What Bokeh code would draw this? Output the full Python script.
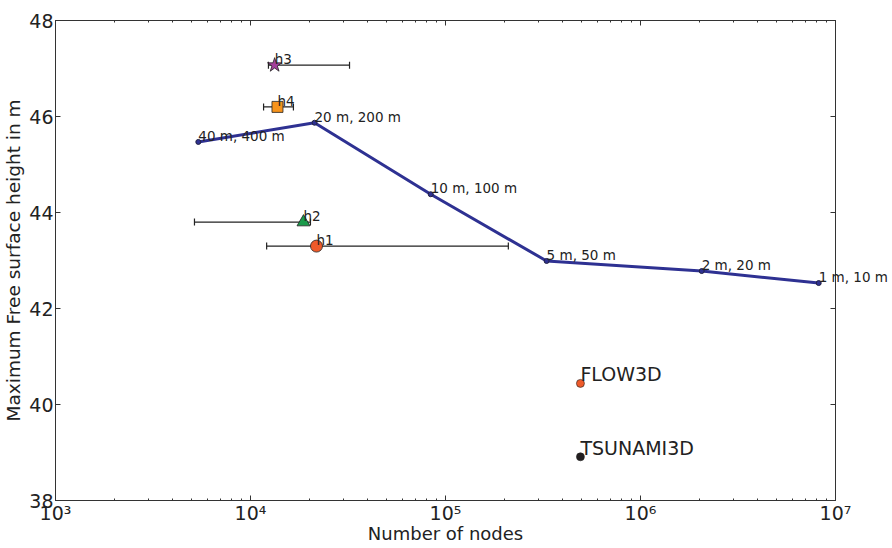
from bokeh.plotting import figure
from bokeh.models import (ColumnDataSource, Label, Whisker, TeeHead, LogAxis,
                          LinearAxis, FixedTicker, CustomJSTickFormatter)
from bokeh.embed import file_html
from bokeh.resources import INLINE

# --- data -------------------------------------------------------------
res_labels = ["40 m, 400 m", "20 m, 200 m", "10 m, 100 m", "5 m, 50 m", "2 m, 20 m", "1 m, 10 m"]
res_nodes = [5.4e3, 2.13e4, 8.4e4, 3.3e5, 2.06e6, 8.2e6]
res_height = [45.47, 45.87, 44.38, 42.99, 42.78, 42.53]

gauge_names = ["h1", "h2", "h3", "h4"]
gauge_nodes = [2.18e4, 1.87e4, 1.33e4, 1.375e4]
gauge_height = [43.30, 43.80, 47.07, 46.20]
gauge_lo = [1.21e4, 5.16e3, 1.236e4, 1.167e4]
gauge_hi = [2.10e5, 2.03e4, 3.22e4, 1.66e4]
gauge_markers = ["circle", "triangle", "star", "square"]
gauge_colors = ["#ee5a2a", "#1a9a4a", "#a23f9c", "#f7941d"]
gauge_sizes = [12, 13, 15, 11]

model_names = ["FLOW3D", "TSUNAMI3D"]
model_nodes = [4.92e5, 4.92e5]
model_height = [40.44, 38.91]
model_colors = ["#ee5a2a", "#231f20"]

x_major = [1e3, 1e4, 1e5, 1e6, 1e7]
y_major = [38, 40, 42, 44, 46, 48]

FONT = "DejaVu Sans"
TXT = "#222222"

p = figure(width=892, height=548, x_axis_type="log", x_range=(1e3, 1e7), y_range=(38, 48),
           output_backend="svg", toolbar_location=None,
           min_border_left=55, min_border_right=57, min_border_top=17, min_border_bottom=48)
p.grid.visible = False
p.outline_line_color = "#333333"
p.outline_line_width = 1
p.background_fill_color = "white"
p.border_fill_color = "white"

x_minor = [m * d for d in x_major[:-1] for m in range(2, 10)]
xticker = FixedTicker(ticks=x_major, minor_ticks=x_minor)
yticker = FixedTicker(ticks=y_major, minor_ticks=[])
fmt = CustomJSTickFormatter(code="""
const sup = {"0":"\u2070","1":"\u00b9","2":"\u00b2","3":"\u00b3","4":"\u2074","5":"\u2075","6":"\u2076","7":"\u2077","8":"\u2078","9":"\u2079","-":"\u207b"};
const e = Math.round(Math.log10(tick));
return "10" + String(e).split("").map(c => sup[c]).join("");
""")
blank = CustomJSTickFormatter(code="return ' ';")

def style(ax, labels=True):
    ax.major_tick_in = 5
    ax.major_tick_out = 0
    ax.minor_tick_in = 2
    ax.minor_tick_out = 0
    ax.axis_line_color = "#333333"
    ax.major_tick_line_color = "#333333"
    ax.minor_tick_line_color = "#333333"
    ax.major_label_text_font = FONT
    ax.major_label_text_color = TXT
    ax.major_label_text_font_size = "19px" if labels else "1px"
    ax.axis_label_text_font = FONT
    ax.axis_label_text_font_style = "normal"
    ax.axis_label_text_font_size = "18px"
    ax.axis_label_text_color = TXT
    ax.major_label_standoff = 2 if labels else 0
    ax.axis_label_standoff = 0

xa = p.xaxis[0]
xa.ticker = xticker
xa.formatter = fmt
xa.axis_label = "Number of nodes"
style(xa)
xa.major_label_standoff = 1
xa.axis_label_standoff = -4
ya = p.yaxis[0]
ya.ticker = yticker
ya.axis_label = "Maximum Free surface height in m"
style(ya)
ya.axis_label_text_font_size = "18.5px"
ya.axis_label_standoff = 2

top = LogAxis(ticker=xticker, formatter=blank)
style(top, labels=False)
p.add_layout(top, "above")
right = LinearAxis(ticker=yticker, formatter=blank)
style(right, labels=False)
p.add_layout(right, "right")

def add_labels(xs, ys, texts, size):
    for x, y, t in zip(xs, ys, texts):
        lab = Label(x=x, y=y, text=t, text_font=FONT, text_font_size=size,
                    text_color=TXT, text_align="left", text_baseline="bottom",
                    y_offset=-2)
        # a label whose text runs past the right edge of the frame goes in a
        # side panel, where it is not clipped to the frame
        p.add_layout(lab, "above" if x > 0.5 * p.x_range.end else "center")

# --- resolution line ----------------------------------------------------
res_src = ColumnDataSource(dict(x=res_nodes, y=res_height))
p.line("x", "y", source=res_src, line_color="#2e3192", line_width=3)
p.scatter("x", "y", source=res_src, size=5, fill_color="#2e3192", line_color="#222244")
add_labels(res_nodes, res_height, res_labels, "13.5px")

# --- gauges -------------------------------------------------------------
g_src = ColumnDataSource(dict(x=gauge_nodes, y=gauge_height, lo=gauge_lo, hi=gauge_hi,
                              m=gauge_markers, c=gauge_colors, s=gauge_sizes))
p.add_layout(Whisker(source=g_src, base="y", lower="lo", upper="hi", dimension="width",
                     line_color="#222222", line_width=1.2,
                     upper_head=TeeHead(size=7, line_color="#222222", line_width=1.2),
                     lower_head=TeeHead(size=7, line_color="#222222", line_width=1.2)))
p.scatter("x", "y", source=g_src, marker="m", size="s", fill_color="c",
          line_color="#222222", line_width=0.8)
add_labels(gauge_nodes, gauge_height, gauge_names, "13.5px")

# --- other models -------------------------------------------------------
m_src = ColumnDataSource(dict(x=model_nodes, y=model_height, c=model_colors))
p.scatter("x", "y", source=m_src, size=8, fill_color="c", line_color="#222222", line_width=0.6)
add_labels(model_nodes, model_height, model_names, "19px")

open("out.html", "w").write(file_html(p, INLINE))
